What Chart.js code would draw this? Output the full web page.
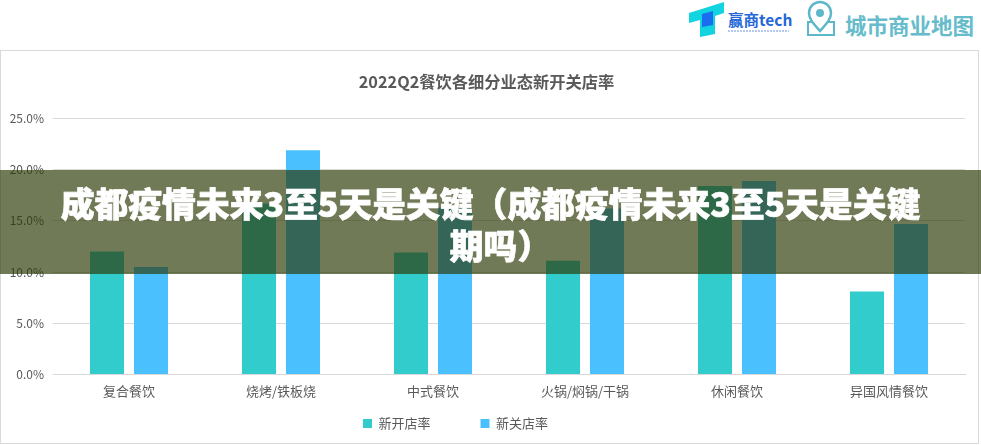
<!DOCTYPE html>
<html>
<head>
<meta charset="utf-8">
<script src="https://cdn.jsdelivr.net/npm/chart.js@4"></script>
<style>
    html, body { margin: 0; padding: 0; background: #fff; }
    body { position: relative; width: 981px; height: 445px; overflow: hidden; font-family: "Noto Sans CJK SC", sans-serif; }
    #card { position: absolute; left: 0; top: 50px; width: 979px; height: 394px; border: 1px solid #d9d9d9; box-sizing: border-box; }
    #chart-wrap { position: absolute; left: 0; top: 50px; width: 978px; height: 392px; overflow: hidden; }
    #banner {
        position: absolute; left: 0; top: 170px; width: 981px; height: 104px;
        box-sizing: border-box; padding-top: 4px;
        background: rgba(43, 57, 4, 0.67);
        display: flex; align-items: center; justify-content: center;
    }
    #banner p {
        margin: 0; width: 880px; color: #fff; text-align: center;
        font-size: 33.8px; line-height: 42px; font-weight: 900;
        -webkit-text-stroke: 0.7px #fff;
    }
    #banner span { display: block; white-space: nowrap; }
    #banner span + span { position: relative; left: 10px; }
    .brand { position: absolute; top: 0; height: 50px; }
    .brand-text { position: absolute; white-space: nowrap; }
</style>
</head>
<body>
<!-- brand marks in the header -->
<svg class="brand" style="left:680px" width="301" height="50" viewBox="0 0 301 50">
    <polygon points="9,13 44,2 44,13 35,16 35,34 20,37 20,20 9,23" fill="#12d3e0"/>
    <polygon points="22,14 33,11 33,25 22,27" fill="#1a6dee"/>
    <line x1="48" y1="31" x2="109" y2="31" stroke="#9db8e6" stroke-width="1.5" stroke-dasharray="2 1"/>
    <path d="M140 31 C133 23 129 19 129 13 A11 11 0 0 1 151 13 C151 19 147 23 140 31 Z" fill="none" stroke="#5cb8c8" stroke-width="2.5"/>
    <circle cx="140" cy="13" r="4" fill="#5cb8c8"/>
    <path d="M133 22 H128 V35 H154 V22 H147" fill="none" stroke="#5cb8c8" stroke-width="2"/>
</svg>
<div class="brand-text" style="left:728px;top:8px;font-size:15.5px;font-weight:700;color:#2467d8">赢商tech</div>
<div class="brand-text" style="left:845px;top:9px;font-size:21.5px;font-weight:700;color:#66bccb">城市商业地图</div>

<div id="card"></div>
<div id="chart-wrap"><canvas id="rateChart" width="978" height="431"></canvas></div>
<div id="banner"><p><span>成都疫情未来3至5天是关键（成都疫情未来3至5天是关键</span><span>期吗）</span></p></div>

<script>
// Opening and closing rates per restaurant segment, 2022 Q2
const categories = ['复合餐饮', '烧烤/铁板烧', '中式餐饮', '火锅/焖锅/干锅', '休闲餐饮', '异国风情餐饮'];
const openRates = [12.0, 16.7, 11.9, 11.1, 18.4, 8.1];
const closeRates = [10.5, 21.9, 16.3, 16.2, 18.9, 14.7];
const seriesNames = ['新开店率', '新关店率'];
const chartTitle = '2022Q2餐饮各细分业态新开关店率';

const fontFamily = '"Noto Sans CJK SC", sans-serif';
const textColor = '#595959';
const gridColor = '#d9d9d9';
const legendGap = 50;

// The wide legend gap makes a tall legend box, so the canvas runs past the
// card (clipped by the wrapper) and the legend gets moved into place here
const legendPlacement = {
    id: 'legendPlacement',
    afterLayout(chart) {
        const legend = chart.legend;
        legend.left -= 31;
        legend.right -= 31;
        legend.top = 367 - legendGap;
    }
};

const ctx = document.getElementById('rateChart').getContext('2d');
const rateChart = new Chart(ctx, {
    type: 'bar',
    data: {
        labels: categories,
        datasets: [{
            label: seriesNames[0],
            data: openRates,
            backgroundColor: '#33cccc',
            categoryPercentage: 0.579,
            barPercentage: 0.773
        }, {
            label: seriesNames[1],
            data: closeRates,
            backgroundColor: '#4bc0ff',
            categoryPercentage: 0.579,
            barPercentage: 0.773
        }]
    },
    plugins: [legendPlacement],
    options: {
        responsive: false,
        animation: false,
        layout: { padding: { left: 8, right: 13, top: 0, bottom: 0 } },
        plugins: {
            title: {
                display: true,
                text: chartTitle,
                color: textColor,
                font: { family: fontFamily, size: 16.25, weight: 'bold' },
                padding: { top: 22, bottom: 27 }
            },
            legend: {
                position: 'bottom',
                labels: {
                    usePointStyle: true,
                    pointStyle: 'rect',
                    boxWidth: 9,
                    boxHeight: 9,
                    color: textColor,
                    font: { family: fontFamily, size: 13 },
                    padding: legendGap
                }
            },
            tooltip: { enabled: false }
        },
        scales: {
            x: {
                grid: { display: false, drawTicks: false },
                border: { color: gridColor },
                ticks: { color: textColor, font: { family: fontFamily, size: 13 }, padding: 9, maxRotation: 0 }
            },
            y: {
                min: 0,
                max: 25,
                afterFit: (scale) => { scale.width = 45; },
                grid: { color: gridColor, drawTicks: false },
                border: { display: false },
                ticks: {
                    stepSize: 5,
                    color: textColor,
                    font: { family: fontFamily, size: 12 },
                    padding: 9,
                    callback: (value) => value.toFixed(1) + '%'
                }
            }
        }
    }
});
</script>
</body>
</html>
